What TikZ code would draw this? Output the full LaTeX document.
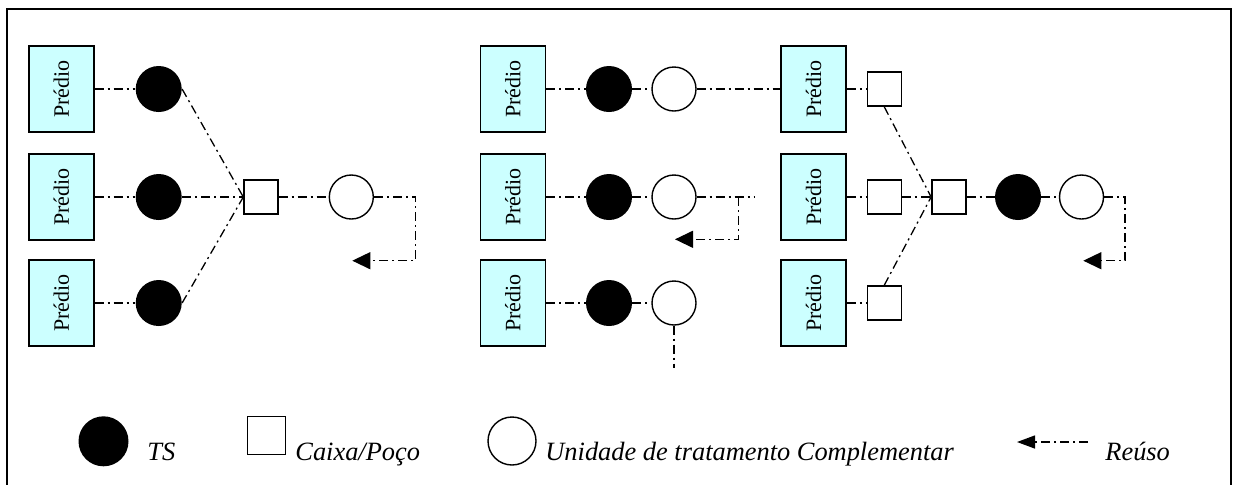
\documentclass[tikz,border=0pt]{standalone}
\usepackage{fontspec}
\setmainfont{Liberation Serif}
\usetikzlibrary{arrows.meta,positioning}

\definecolor{prediocyan}{RGB}{204,255,255}
\tikzset{
  predio/.style={draw, line width=0.75pt, fill=prediocyan, minimum width=32.5pt, minimum height=43pt, inner sep=0pt, font=\fontsize{11}{12}\selectfont},
  ts/.style={circle, fill=black, minimum size=23pt, inner sep=0pt},
  utc/.style={circle, draw, line width=0.7pt, fill=white, minimum size=22pt, inner sep=0pt},
  caixa/.style={draw, line width=0.7pt, fill=white, minimum size=17pt, inner sep=0pt},
  flow/.style={line width=0.65pt, dash pattern=on 4.5pt off 2pt on 1pt off 2pt},
  legtext/.style={font=\fontsize{13.2}{15}\selectfont\itshape, anchor=base west, inner sep=0pt},
}

\begin{document}
\begin{tikzpicture}[x=0.5pt, y=-0.5pt, >={Triangle[length=9pt,width=8.5pt]}]
    \useasboundingbox (0,0) rectangle (1234,484);
    % frame
    \draw[line width=1pt] (7,500) -- (7,9) -- (1231,9) -- (1231,500);
    % group 1
    \foreach \y/\n in {89/1, 197/2, 303/3} {
    	\node[predio] (pa\n) at (61.3,\y) {\rotatebox{90}{Prédio}};
    	\node[ts] (ta\n) at (158.7,\y) {};
    	\draw[flow] (pa\n) -- (ta\n);
    }
    \node[caixa] (ca) at (261,197) {};
    \node[utc] (ua) at (351.3,197) {};
    \draw[flow] (ta1.east) -- (ca.west);
    \draw[flow] (ta2) -- (ca) -- (ua);
    \draw[flow] (ta3.east) -- (ca.west);
    \coordinate (ka) at (415.7,197);
    \coordinate (ra) at (352.3,260.7);
    \draw[flow,->] (ua) -- (ka) |- (ra);
    % group 2
    \foreach \y/\n in {89/1, 197/2, 303/3} {
    	\node[predio] (pb\n) at (512.8,\y) {\rotatebox{90}{Prédio}};
    	\node[ts] (tb\n) at (609,\y) {};
    	\node[utc] (ub\n) at (674,\y) {};
    	\draw[flow] (pb\n) -- (tb\n) -- (ub\n);
    }
    \coordinate (eb) at (754,197);
    \coordinate (kb) at (738.7,197);
    \coordinate (rb) at (675,239.3);
    \coordinate (db) at (674,368);
    \draw[flow] (ub2) -- (eb);
    \draw[flow,->] (kb) |- (rb);
    \draw[flow] (ub3) -- (db);
    % group 3
    \foreach \y/\n in {89/1, 197/2, 303/3} {
    	\node[predio] (pc\n) at (813.5,\y) {\rotatebox{90}{Prédio}};
    	\node[caixa] (cc\n) at (884.2,\y) {};
    	\draw[flow] (pc\n) -- (cc\n);
    }
    \draw[flow] (ub1) -- (pc1);
    \node[caixa] (cm) at (948.8,197) {};
    \node[ts] (tc) at (1018,197) {};
    \node[utc] (uc) at (1081.5,197) {};
    \draw[flow] (cc1.south) -- (cm.west);
    \draw[flow] (cc2) -- (cm) -- (tc) -- (uc);
    \draw[flow] (cc3.north) -- (cm.west);
    \coordinate (kc) at (1125,197);
    \coordinate (rc) at (1083.3,260.7);
    \draw[flow,->] (uc) -- (kc) |- (rc);
    % legend
    \node[ts, minimum size=25pt] (lt) at (103.5,441.3) {};
    \node[legtext] (ltt) at (147,460) {TS};
    \node[caixa, minimum size=19pt] (lc) at (266.7,435.7) {};
    \node[legtext] (lct) at (295,460) {Caixa/Poço};
    \node[utc, minimum size=24pt] (lu) at (512,441) {};
    \node[legtext] (lut) at (545,460) {Unidade de tratamento Complementar};
    \coordinate (lra) at (1088,442);
    \coordinate (lrb) at (1017,442);
    \draw[flow,-{Triangle[length=9pt,width=6.5pt]}] (lra) -- (lrb);
    \node[legtext] (lrt) at (1105,460) {Reúso};
\end{tikzpicture}
\end{document}
